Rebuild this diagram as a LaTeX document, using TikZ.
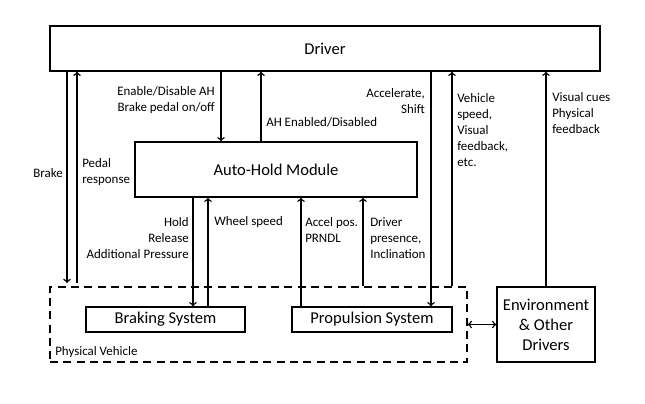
\documentclass[tikz,border=0pt]{standalone}
\usepackage{fontspec}
\setmainfont{Carlito}
\usepackage{tikz}

\begin{document}
\begin{tikzpicture}[x=0.75pt,y=0.75pt,yscale=-1,xscale=1,
  blk/.style={draw, line width=1.1pt, inner sep=0pt, font=\fontsize{12.4}{15}\selectfont},
  lbl/.style={inner sep=0pt, font=\fontsize{9.7}{12}\selectfont},
  flow/.style={->, line width=1.1pt}]
\useasboundingbox (0,0) rectangle (645,403);

%Shape: Rectangle [Driver]
\node[blk, minimum width=412.5pt, minimum height=33.75pt] (drv) at (325,48.5) {Driver};
%Shape: Rectangle [Auto-Hold Module]
\node[blk, minimum width=211.5pt, minimum height=41.25pt] (ahm) at (276,169.5) {Auto-Hold Module};
%Shape: Dashed Rectangle [Physical Vehicle]
\node[draw, dash pattern=on 6pt off 4pt, line width=1.1pt, inner sep=0pt, minimum width=312.75pt, minimum height=56.25pt] (veh) at (258.5,324.5) {};
%Shape: Rectangle [Braking System]
\node[blk, minimum width=119.25pt, minimum height=18.75pt] (brk) at (165.5,319.5) {Braking System};
%Shape: Rectangle [Propulsion System]
\node[blk, minimum width=120pt, minimum height=18.75pt] (prp) at (372,319.5) {Propulsion System};
%Shape: Rectangle [Environment]
\node[blk, minimum width=73.5pt, minimum height=56.25pt, align=center] (env) at (546,324.5) {Environment\\\& Other\\Drivers};

\coordinate (pb) at (67,283);
\coordinate (pr) at (77,283);

%Straight Lines
\draw[flow] (67,0 |- drv.south) -- (pb);
\draw[flow] (pr) -- (77,0 |- drv.south);
\draw[flow] (221,0 |- drv.south) -- (221,0 |- ahm.north);
\draw[flow] (261,0 |- ahm.north) -- (261,0 |- drv.south);
\draw[flow] (431,0 |- drv.south) -- (431,0 |- prp.north);
\draw[flow] (452,0 |- veh.north) -- (452,0 |- drv.south);
\draw[flow] (env.north) -- (env.north |- drv.south);
\draw[flow] (193,0 |- ahm.south) -- (193,0 |- brk.north);
\draw[flow] (208,0 |- brk.north) -- (208,0 |- ahm.south);
\draw[flow] (301,0 |- prp.north) -- (301,0 |- ahm.south);
\draw[flow] (363,0 |- veh.north) -- (363,0 |- ahm.south);
\draw[<->, line width=1.1pt] (veh.east) -- (env.west);

% Text Node
\node[lbl, anchor=east, align=right] (l1) at (215,100) {Enable/Disable AH\\Brake pedal on/off};
% Text Node
\node[lbl, anchor=west, align=left] (l2) at (266,122) {AH Enabled/Disabled};
% Text Node
\node[lbl, anchor=east, align=right] (l3) at (63,173) {Brake};
% Text Node
\node[lbl, anchor=west, align=left] (l4) at (82,172) {Pedal\\response};
% Text Node
\node[lbl, anchor=east, align=right] (l5) at (425,101.5) {Accelerate,\\Shift};
% Text Node
\node[lbl, anchor=west, align=left] (l6) at (457,130) {Vehicle\\speed,\\Visual\\feedback,\\etc.};
% Text Node
\node[lbl, anchor=west, align=left] (l7) at (552,113.5) {Visual cues\\Physical\\feedback};
% Text Node
\node[lbl, anchor=east, align=right] (l8) at (189,238.5) {Hold\\Release\\Additional Pressure};
% Text Node
\node[lbl, anchor=west, align=left] (l9) at (214,222) {Wheel speed};
% Text Node
\node[lbl, anchor=west, align=left] (l10) at (305,230) {Accel pos.\\PRNDL};
% Text Node
\node[lbl, anchor=west, align=left] (l11) at (370,238) {Driver\\presence,\\Inclination};
% Text Node
\node[lbl, anchor=west, align=left] (l12) at (55,352) {Physical Vehicle};
\end{tikzpicture}
\end{document}
